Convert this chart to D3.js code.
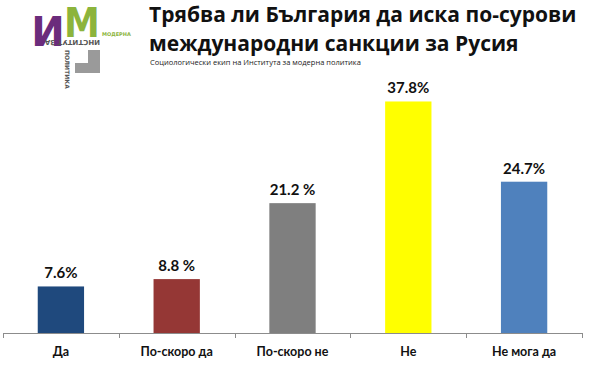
<!DOCTYPE html>
<html>
<head>
<meta charset="utf-8">
<script src="https://cdn.jsdelivr.net/npm/d3@7"></script>
<style>
  body { margin: 0; background: #fff; }
  svg { display: block; }
</style>
</head>
<body>
<div id="chart"></div>
<script>
var categories = ["Да", "По-скоро да", "По-скоро не", "Не", "Не мога да"];
var values = [7.6, 8.8, 21.2, 37.8, 24.7];
var valueLabels = ["7.6%", "8.8 %", "21.2 %", "37.8%", "24.7%"];
var barColors = ["#1f497d", "#953735", "#7f7f7f", "#ffff00", "#4f81bd"];

var width = 600, height = 365;
var svg = d3.select("#chart").append("svg")
    .attr("width", width)
    .attr("height", height);

var x = d3.scaleBand()
    .domain(categories)
    .range([3, 582])
    .paddingInner(0.6)
    .paddingOuter(0.3);

var y = d3.scaleLinear()
    .domain([0, 40])
    .range([333, 88]);

// bars
svg.selectAll("rect.bar")
    .data(values)
    .enter().append("rect")
    .attr("class", "bar")
    .attr("x", function(d, i) { return x(categories[i]); })
    .attr("width", x.bandwidth())
    .attr("y", function(d) { return y(d); })
    .attr("height", function(d) { return y(0) - y(d); })
    .attr("fill", function(d, i) { return barColors[i]; });

// value labels
svg.selectAll("text.val")
    .data(values)
    .enter().append("text")
    .attr("class", "val")
    .attr("x", function(d, i) { return x(categories[i]) + x.bandwidth() / 2; })
    .attr("y", function(d) { return y(d) - 8; })
    .attr("text-anchor", "middle")
    .style("font-family", "Lato")
    .style("font-weight", "bold")
    .style("font-size", "15px")
    .attr("fill", "#111")
    .text(function(d, i) { return valueLabels[i]; });

// axis line with ticks between categories
var axisG = svg.append("g").attr("stroke", "#8c8c8c").attr("stroke-width", 1);
axisG.append("line")
    .attr("x1", 3).attr("x2", 582)
    .attr("y1", y(0) + 0.5).attr("y2", y(0) + 0.5);
d3.range(categories.length + 1).forEach(function(i) {
    var tx = Math.round(3 + i * x.step()) + 0.5;
    axisG.append("line")
        .attr("x1", tx).attr("x2", tx)
        .attr("y1", y(0)).attr("y2", y(0) + 5);
});

// category labels
svg.selectAll("text.cat")
    .data(categories)
    .enter().append("text")
    .attr("class", "cat")
    .attr("x", function(d) { return x(d) + x.bandwidth() / 2; })
    .attr("y", 356)
    .attr("text-anchor", "middle")
    .style("font-family", "Lato")
    .style("font-weight", "bold")
    .style("font-size", "12.5px")
    .attr("fill", "#111")
    .text(function(d) { return d; });

// title
var title = svg.append("text")
    .style("font-family", "Open Sans")
    .style("font-weight", "bold")
    .style("font-size", "21px")
    .attr("fill", "#111");
title.append("tspan").attr("x", 149).attr("y", 22).text("Трябва ли България да иска по-сурови");
title.append("tspan").attr("x", 149).attr("y", 51).text("международни санкции за Русия");

svg.append("text")
    .attr("x", 150).attr("y", 65)
    .style("font-family", "Open Sans")
    .style("font-size", "7.5px")
    .attr("fill", "#222")
    .text("Социологически екип на Института за модерна политика");

// logo
var logo = svg.append("g");
logo.append("path")
    .attr("d", "M88,50 H100 V73 H75 V63 H88 Z")
    .attr("fill", "#9a9a9a");
logo.append("text")
    .attr("x", 48).attr("y", 46)
    .attr("text-anchor", "middle")
    .style("font-family", "DejaVu Sans")
    .style("font-weight", "bold")
    .style("font-size", "40px")
    .attr("fill", "#6b2c7c")
    .text("И");
logo.append("text")
    .attr("transform", "translate(82,37) scale(1,1.15)")
    .attr("text-anchor", "middle")
    .style("font-family", "DejaVu Sans")
    .style("font-weight", "bold")
    .style("font-size", "36px")
    .attr("fill", "#8cb43c")
    .text("М");
logo.append("text")
    .attr("transform", "translate(100,40) rotate(180)")
    .style("font-family", "DejaVu Sans")
    .style("font-weight", "bold")
    .style("font-size", "7px")
    .attr("fill", "#555")
    .text("ИНСТИТУТ ЗА");
logo.append("text")
    .attr("x", 102).attr("y", 36)
    .style("font-family", "DejaVu Sans")
    .style("font-weight", "bold")
    .style("font-size", "5px")
    .attr("fill", "#8cb43c")
    .text("МОДЕРНА");
logo.append("text")
    .attr("transform", "translate(65,50) rotate(90)")
    .style("font-family", "DejaVu Sans")
    .style("font-weight", "bold")
    .style("font-size", "6px")
    .attr("fill", "#555")
    .text("ПОЛИТИКА");
</script>
</body>
</html>
